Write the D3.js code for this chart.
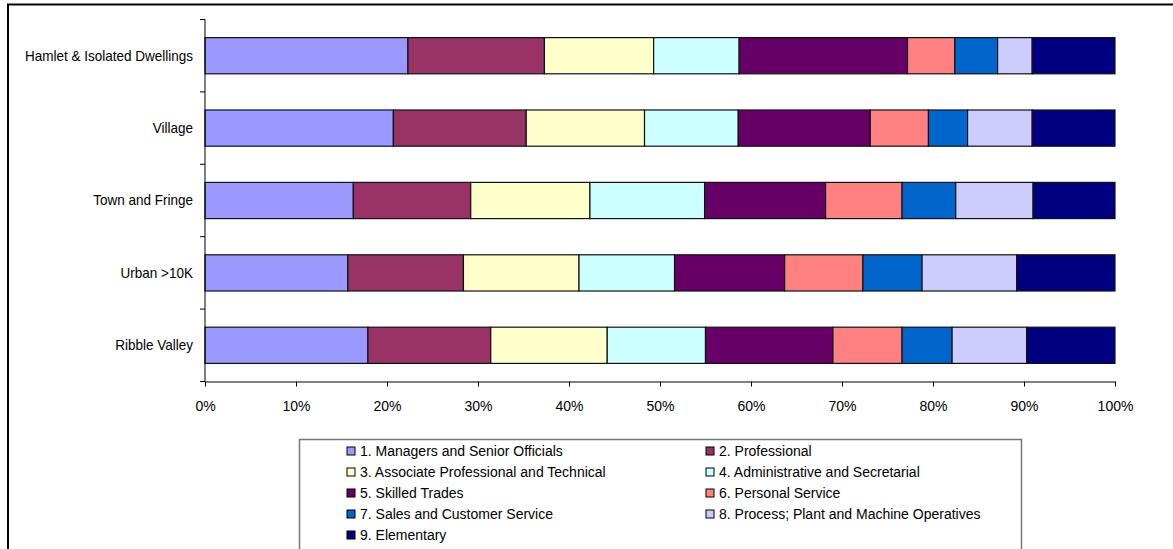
<!DOCTYPE html>
<html>
<head>
<meta charset="utf-8">
<script src="https://cdn.jsdelivr.net/npm/d3@7"></script>
<style>
  html, body { margin: 0; padding: 0; background: #fff; }
  svg { display: block; }
  text { font-family: "Liberation Sans", Arial, sans-serif; fill: #000; }
</style>
</head>
<body>
<svg id="chart" width="1173" height="549"></svg>
<script>
// Settlement types, top to bottom
const categories = ["Hamlet & Isolated Dwellings", "Village", "Town and Fringe", "Urban >10K", "Ribble Valley"];

// Occupation groups (stack order, left to right)
const groups = [
  "1. Managers and Senior Officials",
  "2. Professional",
  "3. Associate Professional and Technical",
  "4. Administrative and Secretarial",
  "5. Skilled Trades",
  "6. Personal Service",
  "7. Sales and Customer Service",
  "8. Process; Plant and Machine Operatives",
  "9. Elementary"
];

// Share of employed residents (%) per group, one array per settlement type
const hamlet = [22.3, 15.0, 12.0, 9.4, 18.5, 5.2, 4.7, 3.8, 9.1];
const village = [20.7, 14.6, 13.0, 10.3, 14.5, 6.4, 4.3, 7.1, 9.1];
const townFringe = [16.3, 12.9, 13.1, 12.6, 13.3, 8.4, 5.9, 8.5, 9.0];
const urban = [15.7, 12.7, 12.7, 10.5, 12.1, 8.6, 6.5, 10.4, 10.8];
const ribbleValley = [17.9, 13.5, 12.8, 10.8, 14.0, 7.6, 5.5, 8.2, 9.7];

const xTicks = [0, 10, 20, 30, 40, 50, 60, 70, 80, 90, 100];

const colors = ["#9999FF", "#993366", "#FFFFCC", "#CCFFFF", "#660066", "#FF8080", "#0066CC", "#CCCCFF", "#000080"];

const seriesByCategory = [hamlet, village, townFringe, urban, ribbleValley];
const rows = categories.map((c, i) => {
  const r = { category: c };
  groups.forEach((g, j) => { r[g] = seriesByCategory[i][j]; });
  return r;
});

const svg = d3.select("#chart");

// Outer chart frame (continues beyond the right and bottom edges)
svg.append("path")
  .attr("d", "M8,1200 V4.5 H1300")
  .attr("fill", "none")
  .attr("stroke", "#000")
  .attr("stroke-width", 2);

const plot = { left: 205, right: 1115, top: 19.5, bottom: 381.5 };

const x = d3.scaleLinear().domain([0, 100]).range([plot.left, plot.right]);
const y = d3.scaleBand().domain(categories).range([plot.top, plot.bottom]).paddingInner(0.5).paddingOuter(0.25);
const band = d3.scaleBand().domain(categories).range([plot.top, plot.bottom]);

const stack = d3.stack().keys(groups).offset(d3.stackOffsetExpand);
const stacked = stack(rows);

// Bars
const layer = svg.append("g").selectAll("g")
  .data(stacked)
  .join("g")
  .attr("fill", (d, i) => colors[i]);

layer.selectAll("rect")
  .data(d => d)
  .join("rect")
  .attr("x", d => x(d[0] * 100))
  .attr("y", d => y(d.data.category))
  .attr("width", d => x(d[1] * 100) - x(d[0] * 100))
  .attr("height", y.bandwidth())
  .attr("stroke", "#111")
  .attr("stroke-width", 1.2);

// Category axis: line with ticks at band boundaries
const yAxisG = svg.append("g");
yAxisG.append("line")
  .attr("x1", plot.left).attr("x2", plot.left)
  .attr("y1", plot.top).attr("y2", plot.bottom)
  .attr("stroke", "#000").attr("stroke-width", 1);
const boundaries = categories.map(c => band(c)).concat([plot.bottom]);
yAxisG.selectAll("line.tick")
  .data(boundaries)
  .join("line")
  .attr("class", "tick")
  .attr("x1", plot.left - 5).attr("x2", plot.left)
  .attr("y1", d => d).attr("y2", d => d)
  .attr("stroke", "#000");
// Labels drawn slightly condensed
yAxisG.selectAll("text")
  .data(categories)
  .join("text")
  .attr("transform", d => `translate(${plot.left - 12},${band(d) + band.bandwidth() / 2}) scale(0.965,1)`)
  .attr("dy", "0.35em")
  .attr("text-anchor", "end")
  .attr("font-size", 14)
  .text(d => d);

// Percentage axis
const xAxis = d3.axisBottom(x)
  .tickValues(xTicks)
  .tickFormat(d => d + "%")
  .tickSize(5)
  .tickSizeOuter(0);
const xAxisG = svg.append("g")
  .attr("transform", `translate(0,${plot.bottom})`)
  .call(xAxis);
xAxisG.select(".domain").attr("stroke", "#000");
xAxisG.selectAll(".tick line").attr("stroke", "#000");
xAxisG.selectAll(".tick text")
  .attr("font-family", "Liberation Sans, Arial, sans-serif")
  .attr("font-size", 14)
  .attr("fill", "#000")
  .attr("y", 20);

// Legend
const legend = svg.append("g");
legend.append("path")
  .attr("d", "M299.5,600 V439.5 H1021.5 V600")
  .attr("fill", "none")
  .attr("stroke", "#777")
  .attr("stroke-width", 1.5);

const legendCols = [347, 706];
const legendRowY = d3.scalePoint().domain([0, 1, 2, 3, 4]).range([451, 535]);
const items = legend.selectAll("g.item")
  .data(groups)
  .join("g")
  .attr("class", "item")
  .attr("transform", (d, i) => `translate(${legendCols[i % 2]},${legendRowY(Math.floor(i / 2))})`);
items.append("rect")
  .attr("x", 0).attr("y", -4)
  .attr("width", 8).attr("height", 8)
  .attr("fill", (d, i) => colors[i])
  .attr("stroke", "#000")
  .attr("stroke-width", 1);
items.append("text")
  .attr("x", 13)
  .attr("dy", "0.35em")
  .attr("font-size", 14)
  .text(d => d);
</script>
</body>
</html>
